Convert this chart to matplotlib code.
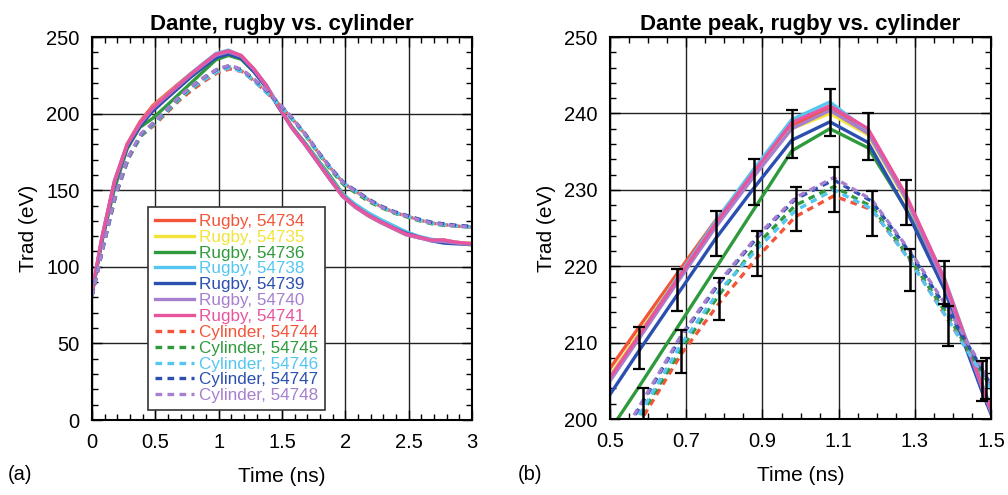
import matplotlib
matplotlib.use('Agg')
import matplotlib.pyplot as plt
from matplotlib.ticker import MultipleLocator

plt.rcParams['font.family'] = ['Liberation Sans', 'DejaVu Sans']

# Dante sampling times (ns); the cylinder shots are offset by ~10 ps
t_rugby = [0.0, 0.077, 0.177, 0.277, 0.377, 0.477, 0.577, 0.677, 0.777, 0.877,
           0.977, 1.077, 1.177, 1.277, 1.377, 1.477, 1.577, 1.677, 1.777, 1.877,
           1.977, 2.077, 2.177, 2.277, 2.377, 2.477, 2.577, 2.677, 2.777, 2.877,
           2.977, 3.077]
t_cyl = [0.0, 0.087, 0.187, 0.287, 0.387, 0.487, 0.587, 0.687, 0.787, 0.887,
         0.987, 1.087, 1.187, 1.287, 1.387, 1.487, 1.587, 1.687, 1.787, 1.887,
         1.987, 2.087, 2.187, 2.287, 2.387, 2.487, 2.587, 2.687, 2.787, 2.887,
         2.987, 3.087]

# radiation temperature (eV)
rugby_54734 = [82, 118, 156, 180, 194.5, 205.0, 212.1, 219.1, 226.0, 232.3, 238.4, 240.7,
               237.8, 229.0, 218.2, 204.0, 191.0, 180.5, 169.0, 157.5, 146.0, 139.0, 133.5,
               129.0, 125.0, 121.0, 119.0, 117.5, 117.5, 116.0, 115.3, 114.8]
rugby_54735 = [83, 118, 155, 179.5, 193.5, 204.0, 211.3, 218.5, 225.6, 232.1, 238.0, 240.0,
               237.2, 228.6, 217.8, 204.0, 191.0, 180.5, 169.0, 157.5, 146.5, 139.5, 134.0,
               129.5, 125.5, 121.5, 119.5, 117.5, 117.0, 116.0, 115.3, 114.8]
rugby_54736 = [82, 116, 151, 177, 191.0, 196.8, 204.3, 212.0, 219.7, 227.4, 235.1, 238.0,
               235.5, 227.5, 217.5, 204.0, 191.5, 181.5, 170.5, 159.5, 148.0, 140.0, 134.0,
               129.5, 125.5, 121.5, 119.5, 117.5, 116.5, 115.5, 114.5, 114.0]
rugby_54738 = [83, 119, 156, 179.5, 193.5, 203.5, 211.0, 218.5, 225.9, 232.7, 239.2, 241.5,
               237.7, 229.0, 218.5, 204.5, 191.5, 181.0, 170.0, 158.5, 147.5, 141.0, 135.5,
               131.0, 127.0, 123.0, 120.0, 118.0, 117.0, 116.0, 115.0, 114.5]
rugby_54739 = [83, 117, 154, 178, 191.5, 201.5, 209.0, 216.3, 223.6, 230.2, 236.5, 238.9,
               236.2, 227.4, 217.0, 203.5, 191.0, 180.5, 169.0, 157.5, 146.5, 139.5, 134.0,
               129.5, 125.5, 122.0, 119.5, 117.0, 115.5, 115.0, 114.8, 114.5]
rugby_54740 = [83, 118, 155, 179.5, 193.0, 203.3, 210.6, 217.9, 225.1, 231.7, 238.0, 240.4,
               237.4, 228.8, 217.8, 204.0, 190.5, 180.0, 168.5, 157.0, 146.0, 139.0, 133.5,
               129.0, 125.0, 121.0, 119.0, 117.0, 116.5, 115.5, 114.8, 114.3]
rugby_54741 = [84, 119, 156, 180, 193.8, 203.8, 211.0, 218.3, 225.6, 232.3, 238.8, 241.0,
               238.0, 229.3, 218.4, 204.3, 191.0, 180.5, 169.0, 157.5, 146.5, 139.5, 134.0,
               129.5, 125.5, 121.5, 119.5, 117.5, 117.5, 116.0, 115.3, 114.8]

cyl_54744 = [81, 112.5, 146.5, 170.5, 185.5, 192.2, 200.3, 208.5, 215.2, 221.2, 226.5, 229.2,
             227.4, 220.8, 213.0, 205.2, 196.0, 186.0, 174.5, 164.0, 154.5, 149.0, 143.5,
             139.0, 135.5, 133.0, 130.5, 128.5, 127.5, 126.5, 126.0, 125.8]
cyl_54745 = [81, 112.5, 146.5, 171, 185.5, 193.0, 201.0, 209.2, 216.3, 222.9, 228.0, 230.4,
             227.8, 221.0, 213.5, 205.2, 195.5, 185.5, 174.0, 163.0, 153.5, 148.0, 142.5,
             138.5, 135.0, 132.5, 130.0, 128.0, 127.0, 126.5, 126.0, 125.5]
cyl_54746 = [81, 113, 147, 171, 186.0, 193.2, 201.4, 209.8, 216.8, 222.3, 227.3, 230.0,
             227.5, 220.7, 213.0, 205.0, 196.0, 186.0, 174.5, 164.0, 154.5, 149.0, 143.5,
             139.0, 135.5, 133.0, 130.5, 128.5, 127.5, 126.5, 126.0, 125.8]
cyl_54747 = [81, 113, 147, 171.5, 186.5, 194.0, 202.3, 210.8, 217.8, 223.8, 228.8, 231.3,
             228.5, 221.8, 214.2, 205.6, 196.5, 186.5, 175.0, 164.5, 155.0, 149.5, 144.0,
             139.5, 136.0, 133.5, 131.0, 129.0, 128.0, 127.0, 126.5, 126.3]
cyl_54748 = [81, 113, 147.5, 172, 187.0, 194.3, 202.5, 211.0, 218.0, 224.0, 229.0, 231.6,
             228.7, 222.0, 214.5, 205.8, 196.5, 186.0, 174.5, 164.0, 154.5, 149.0, 143.5,
             139.0, 135.5, 133.0, 130.5, 128.5, 127.5, 126.5, 126.0, 125.8]

# shot-averaged peak values with error bars
t_rugby_err = [0.577, 0.677, 0.777, 0.877, 0.977, 1.077, 1.177, 1.277, 1.377, 1.477]
rugby_mean = [209.3, 216.9, 224.3, 231.0, 237.3, 240.1, 237.0, 228.4, 217.9, 205.0]
rugby_err = [2.7, 2.8, 2.9, 3.05, 3.1, 3.1, 3.1, 2.95, 2.8, 2.6]
t_cyl_err = [0.587, 0.687, 0.787, 0.887, 0.987, 1.087, 1.187, 1.287, 1.387, 1.487]
cyl_mean = [201.3, 208.8, 215.7, 221.7, 227.5, 230.1, 226.9, 219.5, 212.2, 205.3]
cyl_err = [2.7, 2.8, 2.8, 2.95, 2.9, 2.95, 2.9, 2.7, 2.6, 2.65]

rugby_shots = [('Rugby, 54734', rugby_54734, '#f4553a'),
               ('Rugby, 54735', rugby_54735, '#f2e43a'),
               ('Rugby, 54736', rugby_54736, '#2f9a3c'),
               ('Rugby, 54738', rugby_54738, '#55c6f0'),
               ('Rugby, 54739', rugby_54739, '#2b4fb0'),
               ('Rugby, 54740', rugby_54740, '#a67fce'),
               ('Rugby, 54741', rugby_54741, '#e8559e')]
cyl_shots = [('Cylinder, 54744', cyl_54744, '#f4553a'),
             ('Cylinder, 54745', cyl_54745, '#2f9a3c'),
             ('Cylinder, 54746', cyl_54746, '#55c6f0'),
             ('Cylinder, 54747', cyl_54747, '#2b4fb0'),
             ('Cylinder, 54748', cyl_54748, '#a67fce')]

fig = plt.figure(figsize=(10.08, 4.95), dpi=100)
ax1 = fig.add_axes([0.0913, 0.1515, 0.377, 0.7737])
ax2 = fig.add_axes([0.6052, 0.1535, 0.378, 0.7717])


def style_axes(ax):
    ax.grid(True, which='major', color='#222222', lw=1.0)
    ax.set_axisbelow(True)
    ax.tick_params(which='both', direction='in', top=True, right=True,
                   labelsize=14.5, pad=9, width=1.0)
    ax.tick_params(which='major', length=7)
    ax.tick_params(which='minor', length=4)
    for s in ax.spines.values():
        s.set_linewidth(1.5)
        s.set_zorder(5)
    ax.set_xlabel('Time (ns)', fontsize=15, labelpad=11)
    ax.set_ylabel('Trad (eV)', fontsize=15, labelpad=6)


for ax in (ax1, ax2):
    for name, vals, col in rugby_shots:
        ax.plot(t_rugby, vals, color=col, lw=2.4, label=name)
    for name, vals, col in cyl_shots:
        ax.plot(t_cyl, vals, color=col, lw=2.4, ls=(0, (2.0, 1.6)), label=name)
    style_axes(ax)

ax2.errorbar(t_rugby_err, rugby_mean, yerr=rugby_err, fmt='none', ecolor='black',
             elinewidth=1.8, capsize=4, capthick=1.6, zorder=4)
ax2.errorbar(t_cyl_err, cyl_mean, yerr=cyl_err, fmt='none', ecolor='black',
             elinewidth=1.8, capsize=4, capthick=1.6, zorder=4)

ax1.set_xlim(0, 3)
ax1.set_ylim(0, 250)
ax1.set_xticks([0, 0.5, 1, 1.5, 2, 2.5, 3])
ax1.set_xticklabels(['0', '0.5', '1', '1.5', '2', '2.5', '3'])
ax1.xaxis.set_minor_locator(MultipleLocator(0.1))
ax1.yaxis.set_major_locator(MultipleLocator(50))
ax1.yaxis.set_minor_locator(MultipleLocator(10))
ax1.set_title('Dante, rugby vs. cylinder', fontsize=16, fontweight='bold', pad=5)

ax2.set_xlim(0.5, 1.5)
ax2.set_ylim(200, 250)
ax2.set_xticks([0.5, 0.7, 0.9, 1.1, 1.3, 1.5])
ax2.set_xticklabels(['0.5', '0.7', '0.9', '1.1', '1.3', '1.5'])
ax2.xaxis.set_minor_locator(MultipleLocator(0.05))
ax2.yaxis.set_major_locator(MultipleLocator(10))
ax2.yaxis.set_minor_locator(MultipleLocator(2))
ax2.set_title('Dante peak, rugby vs. cylinder', fontsize=16, fontweight='bold', pad=5)

leg = ax1.legend(loc='lower left', bbox_to_anchor=(0.147, 0.026), borderaxespad=0,
                 fontsize=12.3, handlelength=2.3, handletextpad=0.3, labelspacing=0.05,
                 borderpad=0.4, fancybox=False, framealpha=1, edgecolor='#333333')
leg.get_frame().set_linewidth(1.2)
leg.set_zorder(6)
for txt, line in zip(leg.get_texts(), leg.get_lines()):
    txt.set_color(line.get_color())

fig.text(0.008, 0.03, '(a)', fontsize=14.5)
fig.text(0.514, 0.03, '(b)', fontsize=14.5)

fig.savefig('out.png', dpi=100)
